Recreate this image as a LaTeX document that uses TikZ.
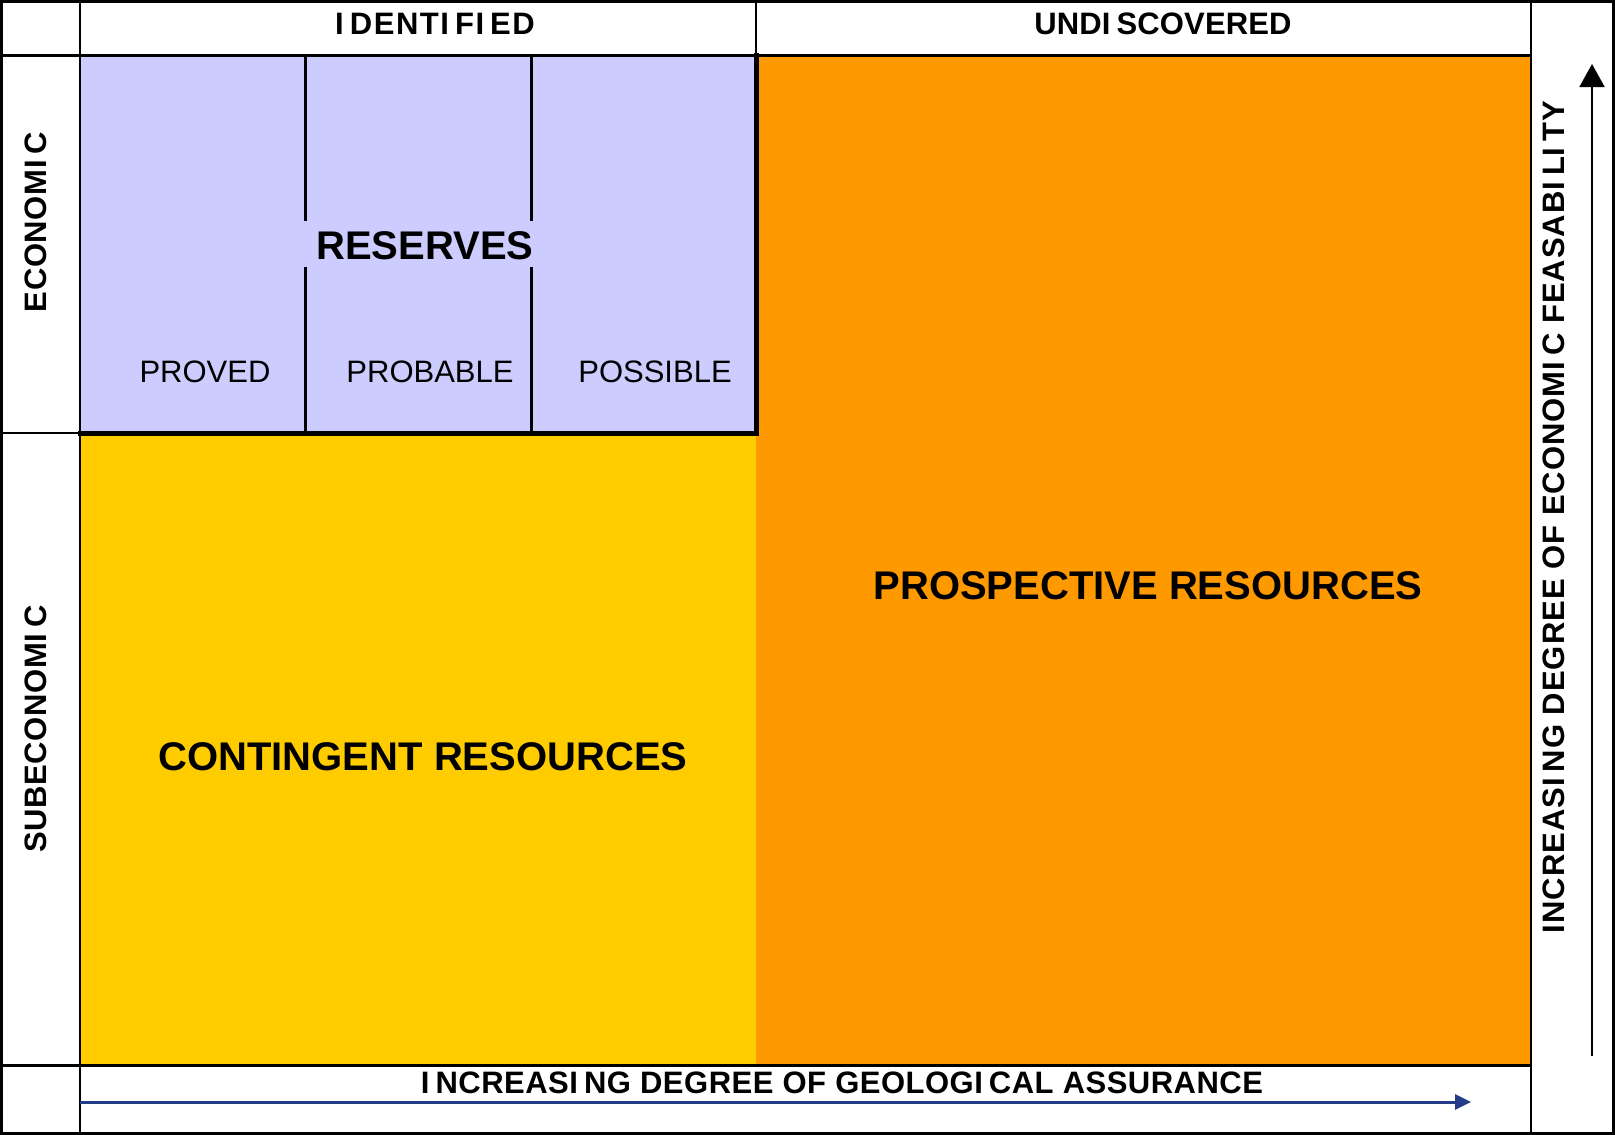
\documentclass[tikz,border=0pt]{standalone}
\usepackage{fontspec}
\setmainfont{Liberation Sans}
\usetikzlibrary{arrows.meta}
\definecolor{reslav}{RGB}{204,204,255}
\definecolor{contyel}{RGB}{255,204,0}
\definecolor{prosor}{RGB}{255,153,0}
\definecolor{axblue}{RGB}{35,60,135}
% letter I followed by the wide gap of the heading face
\newcommand{\gapI}{I\kern6pt}
% tracked heading text
\newcommand{\tracked}[2]{{\addfontfeature{LetterSpace=#1}#2}}
\begin{document}
\begin{tikzpicture}[x=1pt,y=-1pt,
  hdr/.style={font=\fontsize{31}{31}\selectfont\bfseries, inner sep=0pt, anchor=center},
  bigtxt/.style={font=\fontsize{40}{40}\selectfont\bfseries, inner sep=0pt, anchor=center},
  subtxt/.style={font=\fontsize{31}{31}\selectfont, inner sep=0pt, anchor=center},
  gridline/.style={line width=2pt, line cap=rect},
  heavyline/.style={line width=5pt, line cap=rect}]
\useasboundingbox (0,0) rectangle (1615,1135);
% cell fills
\fill[white] (0,0) rectangle (1615,1135);
\fill[reslav] (80,55) rectangle (756,433);
\fill[contyel] (80,433) rectangle (756,1065);
\fill[prosor] (756,55) rectangle (1531,1065);
% table grid
\draw[gridline] (80,0) -- (80,1135);
\draw[gridline] (1531,0) -- (1531,1135);
\draw[line width=3pt] (0,55) -- (1531,55);
\draw[line width=3pt] (0,1065) -- (1531,1065);
\draw[gridline] (756,0) -- (756,55);
\draw[gridline] (0,433) -- (80,433);
\draw[heavyline] (756,55) -- (756,433);
\draw[heavyline] (80,433) -- (756,433);
% reserve category dividers, broken around the title
\draw[line width=3pt] (305,55) -- (305,221) (305,267) -- (305,433);
\draw[line width=3pt] (531,55) -- (531,221) (531,267) -- (531,433);
% outer frame
\draw[line width=3pt] (1.5,1.5) rectangle (1613.5,1133.5);
% headings
\node[hdr] (ident) at (435,24) {\tracked{5}{\gapI DENT\gapI F\gapI ED}};
\node[hdr] (undisc) at (1163,24) {\tracked{0.5}{UND\gapI SCOVERED}};
\node[hdr, rotate=90] (econ) at (36,222) {\tracked{2}{ECONOM\gapI C}};
\node[hdr, rotate=90] (subecon) at (36,729) {\tracked{2}{SUBECONOM\gapI C}};
\node[hdr, rotate=90] (feas) at (1554,517) {\tracked{3.2}{INCREAS\gapI NG DEGREE OF ECONOM\gapI C FEASAB\gapI L\gapI TY}};
\node[hdr] (geol) at (842,1083) {\tracked{1.6}{\gapI NCREAS\gapI NG DEGREE OF GEOLOG\gapI CAL ASSURANCE}};
% class labels
\node[bigtxt] (reserves) at (425,246) {RESERVES};
\node[subtxt] (proved) at (205,372) {PROVED};
\node[subtxt] (probable) at (430,372) {PROBABLE};
\node[subtxt] (possible) at (655,372) {POSSIBLE};
\node[bigtxt] (contingent) at (423,757) {CONTINGENT RESOURCES};
\node[bigtxt] (prospective) at (1148,586) {PROSPECTIVE RESOURCES};
% axis arrows
\coordinate (geoStart) at (80,1102);
\coordinate (geoEnd) at (1471,1102);
\draw[axblue, line width=3pt, -{Triangle[length=16pt,width=15pt]}] (geoStart) -- (geoEnd);
\coordinate (ecoStart) at (1592,1056);
\coordinate (ecoEnd) at (1592,64);
\draw[line width=1.8pt, -{Triangle[length=23pt,width=25pt]}] (ecoStart) -- (ecoEnd);
\end{tikzpicture}
\end{document}
